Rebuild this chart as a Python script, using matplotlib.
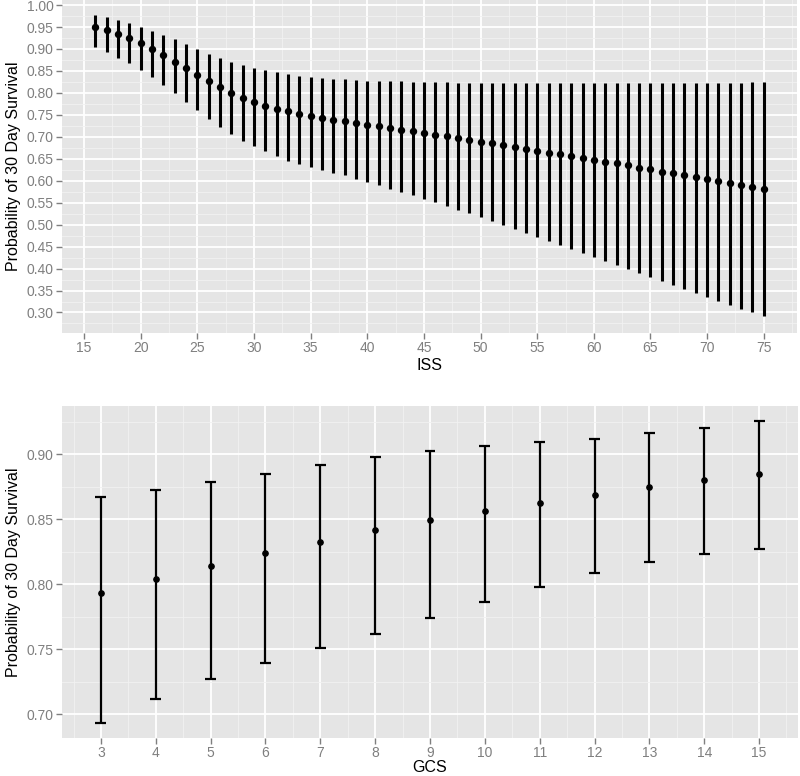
import numpy as np
import matplotlib
matplotlib.use("Agg")
import matplotlib.pyplot as plt
from matplotlib.ticker import MultipleLocator

plt.rcParams['font.family'] = ['Liberation Sans', 'DejaVu Sans']

# ISS panel: predicted probability with 95% interval
iss = list(range(16, 76))
iss_fit = [0.951, 0.944, 0.935, 0.925, 0.913, 0.900, 0.886, 0.871, 0.857, 0.841,
           0.827, 0.813, 0.800, 0.789, 0.779, 0.771, 0.764, 0.758, 0.752, 0.747,
           0.743, 0.739, 0.735, 0.731, 0.728, 0.724, 0.721, 0.716, 0.713, 0.709,
           0.705, 0.701, 0.697, 0.693, 0.688, 0.685, 0.681, 0.677, 0.673, 0.668,
           0.664, 0.661, 0.656, 0.652, 0.647, 0.643, 0.640, 0.635, 0.630, 0.626,
           0.621, 0.618, 0.613, 0.609, 0.604, 0.600, 0.595, 0.591, 0.586, 0.582]
iss_hi = [0.977, 0.972, 0.966, 0.960, 0.951, 0.942, 0.932, 0.922, 0.911, 0.900,
          0.889, 0.880, 0.871, 0.864, 0.857, 0.851, 0.847, 0.842, 0.839, 0.836,
          0.834, 0.832, 0.831, 0.830, 0.828, 0.828, 0.827, 0.826, 0.825, 0.825,
          0.824, 0.824, 0.823, 0.823, 0.822, 0.822, 0.822, 0.822, 0.822, 0.822,
          0.822, 0.822, 0.822, 0.822, 0.822, 0.822, 0.822, 0.822, 0.822, 0.822,
          0.822, 0.822, 0.822, 0.823, 0.823, 0.823, 0.823, 0.823, 0.824, 0.824]
iss_lo = [0.904, 0.892, 0.880, 0.867, 0.852, 0.836, 0.818, 0.799, 0.779, 0.760,
          0.741, 0.723, 0.707, 0.691, 0.678, 0.667, 0.656, 0.646, 0.639, 0.631,
          0.624, 0.618, 0.612, 0.604, 0.597, 0.590, 0.582, 0.575, 0.567, 0.559,
          0.551, 0.543, 0.534, 0.526, 0.517, 0.509, 0.500, 0.491, 0.481, 0.472,
          0.463, 0.454, 0.445, 0.435, 0.426, 0.417, 0.407, 0.398, 0.389, 0.380,
          0.371, 0.362, 0.353, 0.344, 0.335, 0.326, 0.317, 0.308, 0.300, 0.291]

# GCS panel
gcs = list(range(3, 16))
gcs_fit = [0.7934, 0.8040, 0.8142, 0.8239, 0.8326, 0.8413, 0.8493, 0.8562,
           0.8626, 0.8685, 0.8744, 0.8800, 0.8851]
gcs_hi = [0.8670, 0.8726, 0.8785, 0.8850, 0.8918, 0.8977, 0.9023, 0.9059,
          0.9090, 0.9120, 0.9159, 0.9200, 0.9251]
gcs_lo = [0.6935, 0.7118, 0.7271, 0.7397, 0.7510, 0.7620, 0.7737, 0.7860,
          0.7980, 0.8086, 0.8170, 0.8234, 0.8270]

ylab = "Probability of 30 Day Survival"


def gg_style(ax):
    ax.set_facecolor('#E5E5E5')
    for s in ax.spines.values():
        s.set_visible(False)
    ax.grid(which='major', color='white', linewidth=1.3)
    ax.grid(which='minor', color='#F2F2F2', linewidth=0.6)
    ax.set_axisbelow(True)
    ax.tick_params(which='major', colors='#7F7F7F', labelsize=10, length=4, width=1, pad=2)
    ax.tick_params(which='minor', length=0)


fig = plt.figure(figsize=(8, 7.76), dpi=100)

ax1 = fig.add_axes([0.0775, 0.571, 0.919, 0.429])
gg_style(ax1)
ax1.vlines(iss, iss_lo, iss_hi, color='black', linewidth=2.2)
ax1.plot(iss, iss_fit, 'o', color='black', markersize=4.3)
ax1.set_xlim(13.05, 77.95)
ax1.set_ylim(0.2535, 1.0115)
ax1.xaxis.set_major_locator(MultipleLocator(5))
ax1.xaxis.set_minor_locator(MultipleLocator(2.5))
ax1.yaxis.set_major_locator(MultipleLocator(0.05))
ax1.yaxis.set_minor_locator(MultipleLocator(0.025))
ax1.yaxis.set_major_formatter(plt.FuncFormatter(lambda v, p: f"{v:.2f}"))
ax1.set_xlabel("ISS", fontsize=11.5, labelpad=2)
ax1.set_ylabel(ylab, fontsize=11.5, labelpad=4)

ax2 = fig.add_axes([0.0775, 0.0494, 0.92, 0.4274])
gg_style(ax2)
ax2.vlines(gcs, gcs_lo, gcs_hi, color='black', linewidth=1.6)
cap = 0.1
ax2.hlines(gcs_lo, np.array(gcs) - cap, np.array(gcs) + cap, color='black', linewidth=1.6)
ax2.hlines(gcs_hi, np.array(gcs) - cap, np.array(gcs) + cap, color='black', linewidth=1.6)
ax2.plot(gcs, gcs_fit, 'o', color='black', markersize=3.8)
ax2.set_xlim(2.29, 15.71)
ax2.set_ylim(0.682, 0.937)
ax2.xaxis.set_major_locator(MultipleLocator(1))
ax2.xaxis.set_minor_locator(MultipleLocator(0.5))
ax2.yaxis.set_major_locator(MultipleLocator(0.05))
ax2.yaxis.set_minor_locator(MultipleLocator(0.025))
ax2.yaxis.set_major_formatter(plt.FuncFormatter(lambda v, p: f"{v:.2f}"))
ax2.set_xlabel("GCS", fontsize=11.5, labelpad=0)
ax2.set_ylabel(ylab, fontsize=11.5, labelpad=4)

fig.savefig("out.png", dpi=100)
